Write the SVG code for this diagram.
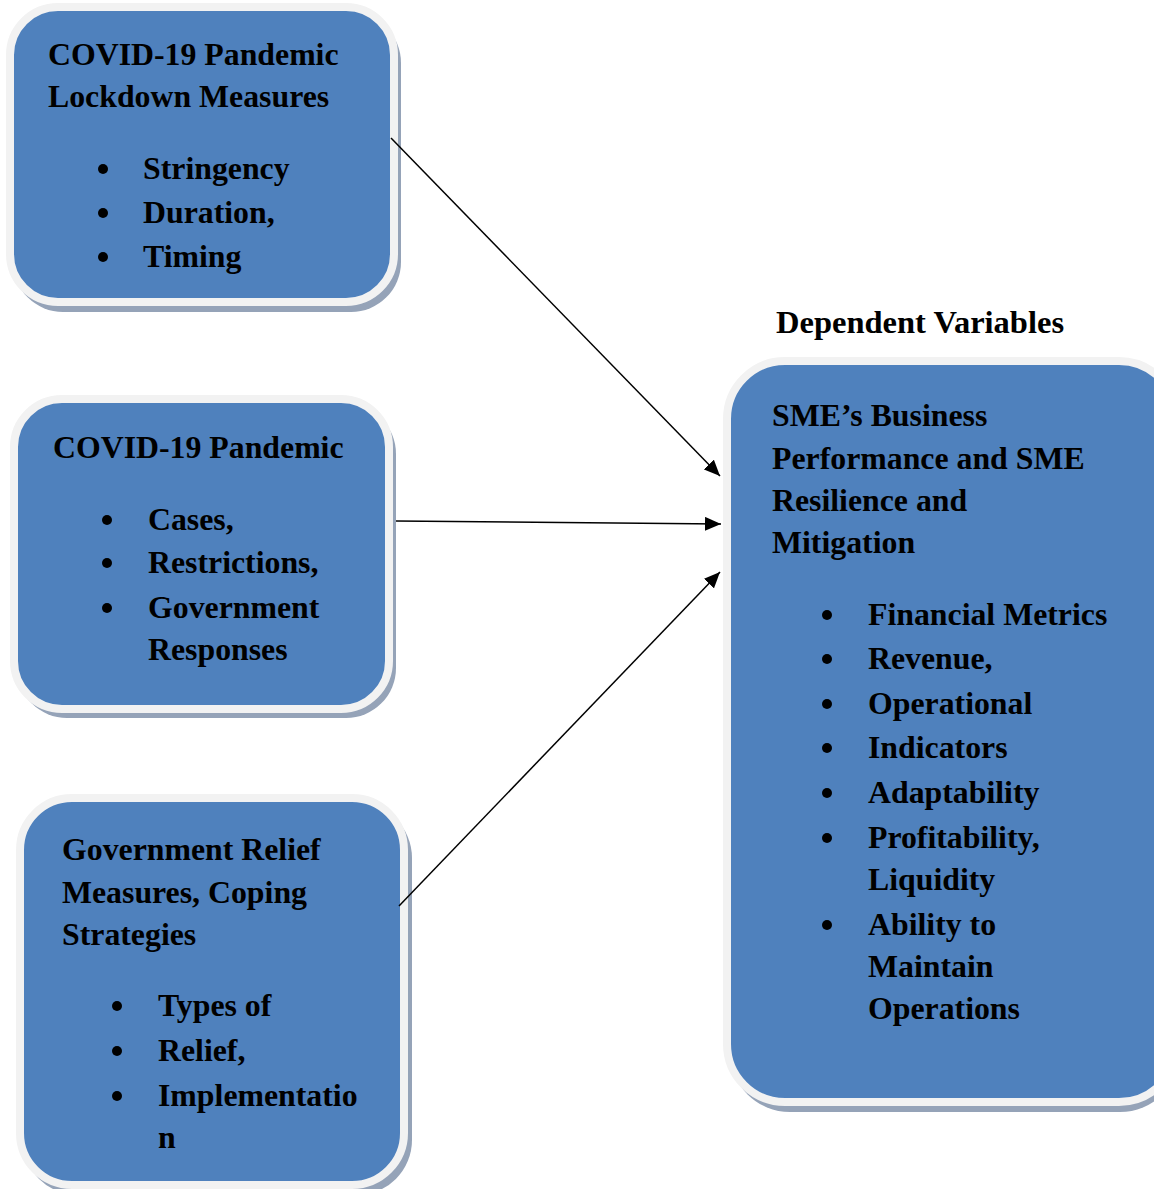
<svg xmlns="http://www.w3.org/2000/svg" width="1154" height="1189" viewBox="0 0 1154 1189">
<defs>
<style>
.shadow{fill:#95A3B8}
.box{fill:#4F81BD;stroke:#F2F2F2;stroke-width:8}
text{font-family:"Liberation Serif","Times New Roman",serif;font-weight:bold;font-size:31.8px;fill:#000}
.conn{stroke:#000;stroke-width:1.5;fill:none}
.dot{fill:#000}
</style>
<marker id="ah" viewBox="0 0 10 10" refX="10" refY="5" markerWidth="16" markerHeight="14" markerUnits="userSpaceOnUse" orient="auto" preserveAspectRatio="none"><path d="M0,0 L10,5 L0,10 z" fill="#000"/></marker>
</defs>
<rect width="1154" height="1189" fill="#fff"/>
<g id="node-lockdown">
<rect class="shadow" x="13" y="13" width="388" height="299" rx="50"/>
<rect class="box" x="10" y="7" width="384" height="295" rx="48"/>
<text x="48" y="65">COVID-19 Pandemic</text>
<text x="48" y="107">Lockdown Measures</text>
<circle class="dot" cx="103" cy="169" r="5"/><text x="143" y="179">Stringency</text>
<circle class="dot" cx="103" cy="213" r="5"/><text x="143" y="223">Duration,</text>
<circle class="dot" cx="103" cy="257" r="5"/><text x="143" y="267">Timing</text>
</g>
<g id="node-pandemic">
<rect class="shadow" x="17" y="404" width="379" height="314" rx="50"/>
<rect class="box" x="14" y="399" width="375" height="310" rx="48"/>
<text x="53" y="458">COVID-19 Pandemic</text>
<circle class="dot" cx="107" cy="520" r="5"/><text x="148" y="530">Cases,</text>
<circle class="dot" cx="107" cy="563" r="5"/><text x="148" y="573">Restrictions,</text>
<circle class="dot" cx="107" cy="608" r="5"/><text x="148" y="618">Government</text>
<text x="148" y="660">Responses</text>
</g>
<g id="node-relief">
<rect class="shadow" x="23" y="803" width="389" height="392" rx="55"/>
<rect class="box" x="20" y="798" width="384" height="387" rx="52"/>
<text x="62" y="860">Government Relief</text>
<text x="62" y="903">Measures, Coping</text>
<text x="62" y="945">Strategies</text>
<circle class="dot" cx="117" cy="1006" r="5"/><text x="158" y="1016">Types of</text>
<circle class="dot" cx="117" cy="1051" r="5"/><text x="158" y="1061">Relief,</text>
<circle class="dot" cx="117" cy="1096" r="5"/><text x="158" y="1106">Implementatio</text>
<text x="158" y="1148">n</text>
</g>
<g id="label-dependent">
<text x="776" y="333" style="font-size:32.5px">Dependent Variables</text>
</g>
<g id="node-sme">
<rect class="shadow" x="730" y="367" width="450" height="745" rx="60"/>
<rect class="box" x="727" y="361" width="450" height="741" rx="58"/>
<text x="772" y="426">SME’s Business</text>
<text x="772" y="469">Performance and SME</text>
<text x="772" y="511">Resilience and</text>
<text x="772" y="553">Mitigation</text>
<circle class="dot" cx="827" cy="615" r="5"/><text x="868" y="625">Financial Metrics</text>
<circle class="dot" cx="827" cy="659" r="5"/><text x="868" y="669">Revenue,</text>
<circle class="dot" cx="827" cy="704" r="5"/><text x="868" y="714">Operational</text>
<circle class="dot" cx="827" cy="748" r="5"/><text x="868" y="758">Indicators</text>
<circle class="dot" cx="827" cy="793" r="5"/><text x="868" y="803">Adaptability</text>
<circle class="dot" cx="827" cy="838" r="5"/><text x="868" y="848">Profitability,</text>
<text x="868" y="890">Liquidity</text>
<circle class="dot" cx="827" cy="925" r="5"/><text x="868" y="935">Ability to</text>
<text x="868" y="977">Maintain</text>
<text x="868" y="1019">Operations</text>
</g>
<g id="connectors">
<line class="conn" x1="391" y1="138" x2="720" y2="476" marker-end="url(#ah)"/>
<line class="conn" x1="396" y1="521" x2="721" y2="524" marker-end="url(#ah)"/>
<line class="conn" x1="399" y1="906" x2="720" y2="572" marker-end="url(#ah)"/>
</g>
</svg>
